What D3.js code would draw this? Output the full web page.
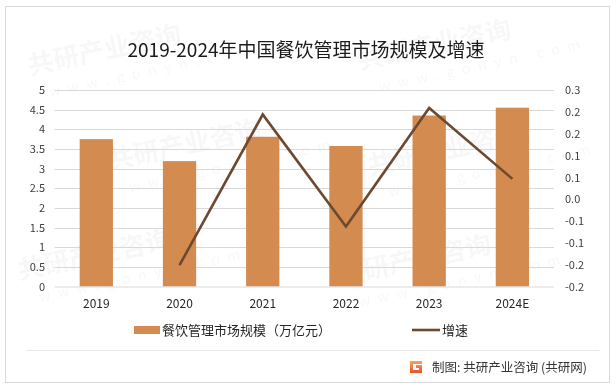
<!DOCTYPE html>
<html><head><meta charset="utf-8">
<script src="https://cdn.jsdelivr.net/npm/d3@7"></script>
<style>body{margin:0;background:#fff;}svg{display:block;font-family:"Noto Sans CJK SC","Noto Sans",sans-serif;}</style>
</head><body><svg id="c" width="616" height="389"></svg>
<script>
const categories = ["2019","2020","2021","2022","2023","2024E"];
const marketSize = [3.75, 3.19, 3.81, 3.575, 4.35, 4.55];
const growth = [null, -0.15, 0.194, -0.062, 0.209, 0.047];
const leftTicks = [0,0.5,1,1.5,2,2.5,3,3.5,4,4.5,5];
const leftTickLabels = ["0","0.5","1","1.5","2","2.5","3","3.5","4","4.5","5"];
const rightTicks = [-0.2,-0.15,-0.1,-0.05,0,0.05,0.1,0.15,0.2,0.25];
const rightTickLabels = ["-0.2","-0.2","-0.1","-0.1","0.0","0.1","0.1","0.2","0.2","0.3"];
const title = "2019-2024年中国餐饮管理市场规模及增速";
const legendBar = "餐饮管理市场规模（万亿元）";
const legendLine = "增速";
const footer = "制图: 共研产业咨询 (共研网)";

const svg = d3.select("#c");
const barColor = "#d48b4f", lineColor = "#6b4a31", gridColor = "#d9d9d9";

// frame
svg.append("rect").attr("x",5.5).attr("y",6.5).attr("width",604).attr("height",376)
  .attr("fill","#fff").attr("stroke","#d9d9d9").attr("stroke-width",1);

// watermarks
const wm = svg.append("g").attr("fill","#000").attr("opacity",0.035).attr("font-weight","bold");
[[30,75],[360,70],[110,170],[370,175],[20,280],[340,285]].forEach(([x,y])=>{
  wm.append("text").attr("transform",`translate(${x},${y}) rotate(-12)`).attr("font-size",26).text("共研产业咨询");
  wm.append("text").attr("transform",`translate(${x+20},${y+22}) rotate(-12)`).attr("font-size",14).attr("font-weight","normal").attr("letter-spacing",8).text("www.gonyn.com");
});

const x = d3.scaleBand().domain(categories).range([54.7,554]).paddingInner(0.6).paddingOuter(0.3);
const yL = d3.scaleLinear().domain([0,5]).range([286.5,90]);
const yR = d3.scaleLinear().domain([-0.2,0.25]).range([287,90]);

// grid
svg.append("g").selectAll("line").data(leftTicks.slice(1)).join("line")
  .attr("x1",54.7).attr("x2",554).attr("y1",d=>Math.round(yL(d))+0.5).attr("y2",d=>Math.round(yL(d))+0.5)
  .attr("stroke",gridColor).attr("stroke-width",1);

// left axis
const axL = d3.axisLeft(yL).tickValues(leftTicks).tickSize(0).tickPadding(0).tickFormat((d,i)=>leftTickLabels[i]);
const gL = svg.append("g").attr("transform","translate(45,0)").call(axL);
gL.select(".domain").remove();
gL.selectAll("text").attr("font-size",11).attr("fill","#404040").attr("font-family","'Noto Sans CJK SC',sans-serif");

// right axis
const axR = d3.axisRight(yR).tickValues(rightTicks).tickSize(0).tickPadding(0).tickFormat((d,i)=>rightTickLabels[i]);
const gR = svg.append("g").attr("transform","translate(565,0)").call(axR);
gR.select(".domain").remove();
gR.selectAll("text").attr("font-size",11).attr("fill","#404040").attr("font-family","'Noto Sans CJK SC',sans-serif");

// bars
svg.append("g").selectAll("rect").data(categories).join("rect")
  .attr("x",d=>x(d)).attr("width",x.bandwidth())
  .attr("y",(d,i)=>yL(marketSize[i])).attr("height",(d,i)=>yL(0)-yL(marketSize[i]))
  .attr("fill",barColor);

// bottom axis
const axB = d3.axisBottom(x).tickSize(0).tickPadding(13);
const gB = svg.append("g").attr("transform",`translate(0,${yL(0)})`).call(axB);
gB.select(".domain").attr("stroke",gridColor).attr("d","M54.7,0.5H554");
gB.selectAll("text").attr("font-size",12).attr("fill","#262626").attr("font-family","'Noto Sans CJK SC',sans-serif");

// line
const pts = categories.map((c,i)=>[x(c)+x.bandwidth()/2, growth[i]]).filter(p=>p[1]!==null);
svg.append("path").datum(pts)
  .attr("d",d3.line().x(p=>p[0]).y(p=>yR(p[1])))
  .attr("fill","none").attr("stroke",lineColor).attr("stroke-width",2.6).attr("stroke-linejoin","miter");

// title
svg.append("text").attr("x",306).attr("y",57).attr("text-anchor","middle")
  .attr("font-size",19).attr("fill","#1a1a1a").text(title);

// legend
svg.append("rect").attr("x",134).attr("y",326).attr("width",26).attr("height",8).attr("fill",barColor);
svg.append("text").attr("x",162).attr("y",335).attr("font-size",13).attr("fill","#262626").text(legendBar);
svg.append("line").attr("x1",412).attr("x2",440).attr("y1",330).attr("y2",330).attr("stroke",lineColor).attr("stroke-width",2.6);
svg.append("text").attr("x",442).attr("y",335).attr("font-size",13).attr("fill","#262626").text(legendLine);

// footer
svg.append("line").attr("x1",27).attr("x2",599).attr("y1",350.5).attr("y2",350.5).attr("stroke","#e6e6e6");
const defs = svg.append("defs");
const lg = defs.append("linearGradient").attr("id","lg").attr("x1",0).attr("y1",0).attr("x2",0).attr("y2",1);
lg.append("stop").attr("offset",0).attr("stop-color","#f7a35c");
lg.append("stop").attr("offset",1).attr("stop-color","#e8542c");
svg.append("path").attr("d","M410,361 h12 v3 h-9 v6 h6 v-2 h-3 v-3 h6 v8 h-12 z").attr("fill","url(#lg)");
svg.append("text").attr("x",432).attr("y",372).attr("font-size",12.5).attr("fill","#333").text(footer);
</script></body></html>
